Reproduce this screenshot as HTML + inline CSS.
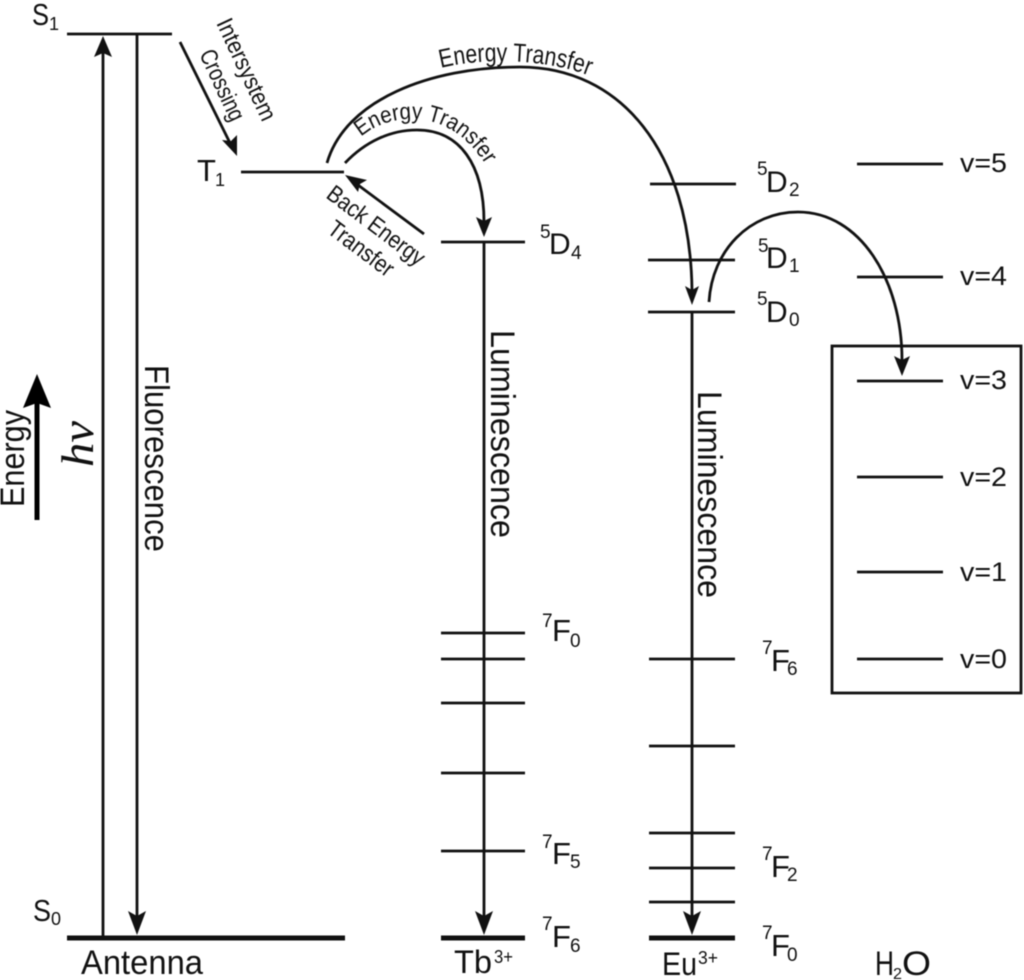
<!DOCTYPE html>
<html><head><meta charset="utf-8"><style>
html,body{margin:0;padding:0;background:#fff}
svg{display:block;filter:blur(.4px)}
text{font-family:"Liberation Sans",sans-serif;fill:#111}
.l{stroke:#111;stroke-width:2.8;fill:none}
.a{stroke:#111;stroke-width:2.8;fill:none}
.h{fill:#111;stroke:none}
.s{font-size:19px}.d{font-size:30px}.f{font-size:31px}.t{font-size:24px}.v{font-size:27px}.b{font-size:34px}
</style></head><body>
<svg width="1024" height="980" viewBox="0 0 1024 980" xmlns="http://www.w3.org/2000/svg">
<defs>
<path id="p1" d="M441,68 C480,58 545,58 590,76"/>
<path id="p2" d="M361,137 C385,115 450,100 490,172"/>
</defs>
<!-- levels -->
<path class="l" d="M67,34H172M241,172H344M441,242H525M650,184H736M648,260H735M648,312H735M857,164H943M857,277H943M857,381H943M857,477H943M857,572H943M857,659H943M441,633H525M441,659H525M441,703H525M441,773H525M441,851H525M649,659H735M649,746H735M649,833H735M649,868H735M649,902H735"/>
<path d="M67,938H345M441,938H525M649,938H735" stroke="#111" stroke-width="5" fill="none"/>
<rect x="832" y="346" width="189" height="347" fill="none" stroke="#111" stroke-width="2.8"/>
<!-- straight arrows -->
<path class="a" d="M103,937V50M137,34V918M484,242V918M692,312V918M180,42L231,145M424,234L358,185"/>
<path class="h" d="M103,36l-9,21 9,-4 9,4zM137,935l-9,-24 9,5 9,-5zM484,935l-9,-24 9,5 9,-5zM692,935l-9,-24 9,5 9,-5zM237,156l-15,-16 9,1 6,-6zM345,175l22,5 -7,4 -2,8z"/>
<path d="M37,520V400" stroke="#000" stroke-width="5" fill="none"/>
<path d="M37,374l-14,34 14,-5 14,5z" fill="#000"/>
<!-- curves -->
<path class="a" d="M327,163C345,100 430,67 520,67C620,67 690,150 692,290"/>
<path class="a" d="M345,163C365,142 390,130 417,130C460,130 484,165 484,222"/>
<path class="a" d="M709,302C712,250 750,212 798,212C860,212 902,280 902,360"/>
<path class="h" d="M692,305l-7,-19 7,4 7,-4zM484,237l-8,-20 8,4 8,-4zM902,376l-8,-20 8,4 8,-4z"/>
<!-- labels left -->
<text x="32" y="25" class="f" textLength="17" lengthAdjust="spacingAndGlyphs">S</text><text x="49" y="30" font-size="18">1</text>
<text x="197" y="181" class="f">T</text><text x="215" y="186" font-size="18">1</text>
<text x="33" y="921" class="f" textLength="18" lengthAdjust="spacingAndGlyphs">S</text><text x="51" y="925" font-size="18">0</text>
<text x="81" y="974" class="b" textLength="122" lengthAdjust="spacingAndGlyphs">Antenna</text>
<text transform="translate(24,507) rotate(-90)" class="b" textLength="97" lengthAdjust="spacingAndGlyphs">Energy</text>
<text transform="translate(93,467) rotate(-90)" font-size="46" style="font-family:'Liberation Serif',serif;font-style:italic" textLength="46" lengthAdjust="spacingAndGlyphs">hv</text>
<text transform="translate(145,365) rotate(90)" class="b" textLength="187" lengthAdjust="spacingAndGlyphs">Fluorescence</text>
<text transform="translate(491,330) rotate(90)" class="b" textLength="208" lengthAdjust="spacingAndGlyphs">Luminescence</text>
<text transform="translate(698,391) rotate(90)" class="b" textLength="207" lengthAdjust="spacingAndGlyphs">Luminescence</text>
<text transform="translate(216,23) rotate(65)" class="t" textLength="110" lengthAdjust="spacingAndGlyphs">Intersystem</text>
<text transform="translate(199,54) rotate(65)" class="t" textLength="76" lengthAdjust="spacingAndGlyphs">Crossing</text>
<text transform="translate(325,197) rotate(37)" class="t" textLength="116" lengthAdjust="spacingAndGlyphs">Back Energy</text>
<text transform="translate(326,232) rotate(37)" class="t" textLength="76" lengthAdjust="spacingAndGlyphs">Transfer</text>
<text font-size="26"><textPath href="#p1" textLength="150" lengthAdjust="spacingAndGlyphs">Energy Transfer</textPath></text>
<text font-size="23"><textPath href="#p2" textLength="146" lengthAdjust="spacingAndGlyphs">Energy Transfer</textPath></text>
<!-- Tb terms -->
<text x="540" y="238" class="s">5</text><text x="549" y="254" class="d">D</text><text x="571" y="259" class="s">4</text>
<text x="542" y="627" class="s">7</text><text x="552" y="641" class="f">F</text><text x="570" y="647" class="s">0</text>
<text x="542" y="848" class="s">7</text><text x="552" y="864" class="f">F</text><text x="570" y="868" class="s">5</text>
<text x="542" y="930" class="s">7</text><text x="552" y="947" class="f">F</text><text x="570" y="952" class="s">6</text>
<text x="454" y="973" font-size="32" textLength="38" lengthAdjust="spacingAndGlyphs">Tb</text><text x="494" y="963" font-size="18" textLength="19" lengthAdjust="spacingAndGlyphs">3+</text>
<!-- Eu terms -->
<text x="757" y="175" class="s">5</text><text x="766" y="192" class="d">D</text><text x="789" y="196" class="s">2</text>
<text x="758" y="252" class="s">5</text><text x="766" y="268" class="d">D</text><text x="789" y="272" class="s">1</text>
<text x="757" y="305" class="s">5</text><text x="766" y="322" class="d">D</text><text x="789" y="326" class="s">0</text>
<text x="762" y="654" class="s">7</text><text x="771" y="671" class="f">F</text><text x="787" y="675" class="s">6</text>
<text x="762" y="860" class="s">7</text><text x="771" y="877" class="f">F</text><text x="787" y="881" class="s">2</text>
<text x="762" y="939" class="s">7</text><text x="771" y="956" class="f">F</text><text x="787" y="961" class="s">0</text>
<text x="662" y="975" font-size="32" textLength="35" lengthAdjust="spacingAndGlyphs">Eu</text><text x="698" y="964" font-size="18" textLength="20" lengthAdjust="spacingAndGlyphs">3+</text>
<!-- water -->
<text x="875" y="975" class="b" textLength="19" lengthAdjust="spacingAndGlyphs">H</text><text x="893" y="979" font-size="16" textLength="9" lengthAdjust="spacingAndGlyphs">2</text><text x="902" y="975" class="b" textLength="29" lengthAdjust="spacingAndGlyphs">O</text>
<text x="960" y="172" class="v" textLength="47" lengthAdjust="spacingAndGlyphs">v=5</text>
<text x="960" y="285" class="v" textLength="47" lengthAdjust="spacingAndGlyphs">v=4</text>
<text x="960" y="389" class="v" textLength="47" lengthAdjust="spacingAndGlyphs">v=3</text>
<text x="960" y="486" class="v" textLength="47" lengthAdjust="spacingAndGlyphs">v=2</text>
<text x="960" y="581" class="v" textLength="47" lengthAdjust="spacingAndGlyphs">v=1</text>
<text x="960" y="668" class="v" textLength="47" lengthAdjust="spacingAndGlyphs">v=0</text>
</svg>
</body></html>
